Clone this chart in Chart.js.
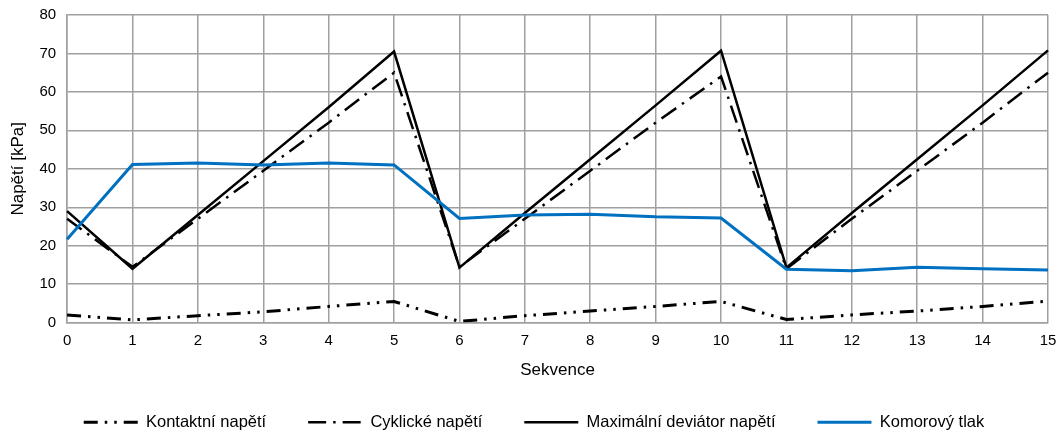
<!DOCTYPE html>
<html>
<head>
<meta charset="utf-8">
<script src="https://cdn.jsdelivr.net/npm/chart.js@4/dist/chart.umd.min.js"></script>
<style>
  html, body { margin: 0; padding: 0; background: #fff; }
  #wrap { width: 1061px; height: 432px; }
</style>
</head>
<body>
<div id="wrap"><canvas id="myChart"></canvas></div>
<script>
const sekvence = ['0', '1', '2', '3', '4', '5', '6', '7', '8', '9', '10', '11', '12', '13', '14', '15'];
const kontaktni = [2.0, 0.7, 1.8, 2.8, 4.2, 5.5, 0.3, 1.8, 3.0, 4.2, 5.5, 0.8, 2.0, 3.0, 4.2, 5.6];
const cyklicke = [27, 14.5, 27, 39.5, 52, 65, 14.5, 27, 39.5, 52, 64, 14, 27, 39.5, 52, 65];
const maxDeviator = [29, 14, 28, 42, 56, 70.5, 14.3, 28.5, 42.5, 56.5, 70.7, 14.3, 28.5, 42.5, 56.5, 70.8];
const komorovy = [21.7, 41.1, 41.5, 41.0, 41.5, 41.0, 27.1, 28.0, 28.2, 27.5, 27.2, 13.9, 13.5, 14.4, 14.0, 13.7];
const yTicks = [0, 10, 20, 30, 40, 50, 60, 70, 80];

const font = 'Liberation Sans, Arial, sans-serif';
const gridColor = '#a0a0a0';

let chartArea = document.getElementById('myChart');

const data = {
    labels: sekvence,
    datasets: [{
        label: 'Kontaktní napětí',
        data: kontaktni,
        borderColor: '#000',
        borderWidth: 3,
        borderDash: [14, 7, 2.5, 7, 2.5, 7],
        order: 4
    }, {
        label: 'Cyklické napětí',
        data: cyklicke,
        borderColor: '#000',
        borderWidth: 2.5,
        borderDash: [18, 7, 2.5, 7],
        order: 3
    }, {
        label: 'Maximální deviátor napětí',
        data: maxDeviator,
        borderColor: '#000',
        borderWidth: 2.5,
        order: 2
    }, {
        label: 'Komorový tlak',
        data: komorovy,
        borderColor: '#0070c0',
        borderWidth: 3,
        order: 1
    }]
};

// legend samples should show the same dash as the lines
const legendLabels = (chart) => {
    const items = Chart.defaults.plugins.legend.labels.generateLabels(chart);
    items.forEach(item => {
        const ds = chart.data.datasets[item.datasetIndex];
        item.lineDash = ds.borderDash || [];
        item.lineWidth = ds.borderWidth;
        item.strokeStyle = ds.borderColor;
    });
    return items;
};

const config = {
    type: 'line',
    data: data,
    options: {
        responsive: true,
        maintainAspectRatio: false,
        animation: false,
        layout: { padding: { top: 0, right: 0, left: 7, bottom: 0 } },
        elements: {
            point: { radius: 0 },
            line: { tension: 0, fill: false, borderCapStyle: 'butt', borderJoinStyle: 'miter' }
        },
        plugins: {
            tooltip: { enabled: false },
            legend: {
                position: 'bottom',
                maxHeight: 60,
                labels: {
                    generateLabels: legendLabels,
                    sort: (a, b) => a.datasetIndex - b.datasetIndex,
                    usePointStyle: true,
                    pointStyle: 'line',
                    pointStyleWidth: 54,
                    boxHeight: 16,
                    padding: 42,
                    color: '#000',
                    font: { family: font, size: 16.5 }
                }
            }
        },
        scales: {
            x: {
                afterFit: (scale) => { scale.paddingRight = 13; },
                grid: { color: gridColor, lineWidth: 1.5, drawTicks: false },
                border: { color: gridColor, width: 1.5 },
                ticks: { color: '#000', padding: 9, maxRotation: 0, font: { family: font, size: 15 } },
                title: { display: true, text: 'Sekvence', color: '#000', padding: { top: 2, bottom: -9 }, font: { family: font, size: 17 } }
            },
            y: {
                min: 0,
                max: 80,
                afterFit: (scale) => { scale.paddingTop = 15; },
                afterBuildTicks: (axis) => { axis.ticks = yTicks.map(v => ({ value: v })); },
                grid: { color: gridColor, lineWidth: 1.5, drawTicks: false },
                border: { color: gridColor, width: 1.5 },
                ticks: { color: '#000', padding: 11, font: { family: font, size: 15 } },
                title: { display: true, text: 'Napětí [kPa]', color: '#000', padding: { top: 1, bottom: 0 }, font: { family: font, size: 17 } }
            }
        }
    }
};

new Chart(chartArea, config);
</script>
</body>
</html>
